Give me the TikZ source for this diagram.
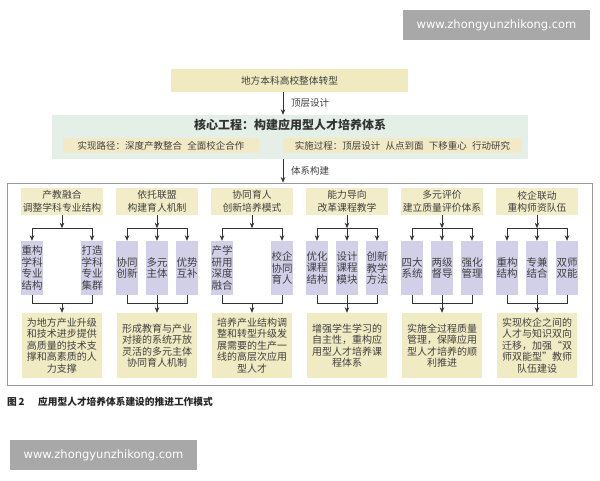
\documentclass[tikz,border=0pt]{standalone}
\usepackage{fontspec}
\setmainfont{Noto Sans CJK SC}
\newfontfamily\wmfont{DejaVu Sans}
\usetikzlibrary{arrows.meta,calc}
\definecolor{hy}{HTML}{F2EDC8}
\definecolor{ty}{HTML}{F1EAC0}
\definecolor{ry}{HTML}{F1EBC3}
\definecolor{lav}{HTML}{D2CFE8}
\definecolor{grn}{HTML}{E4EFE8}
\definecolor{bary}{HTML}{F2EAC6}
\definecolor{txt}{HTML}{404040}
\definecolor{lnc}{HTML}{333333}
\definecolor{wmg}{HTML}{A8A8A8}
\definecolor{frame}{HTML}{9A9A9A}
\newcommand\gapsp{\hspace{0.55em}}
\begin{document}
\begin{tikzpicture}[x=1pt,y=1pt,
  hdr/.style={fill=hy, minimum width=82pt, minimum height=27pt, inner sep=0pt, align=center, text=txt, font=\fontsize{9.8}{12.5}\selectfont},
  kid/.style={fill=lav, minimum width=22pt, minimum height=54pt, inner sep=0pt, align=center, text=txt, font=\fontsize{10.5}{11.5}\selectfont},
  res/.style={fill=ry, minimum width=80pt, minimum height=65pt, inner sep=0pt, align=center, text=txt, font=\fontsize{10}{11.5}\selectfont},
  bar/.style={fill=bary, minimum height=15pt, inner sep=0pt, text=txt, font=\fontsize{9.5}{11}\selectfont},
  lbl/.style={anchor=west, inner sep=0pt, text=txt, font=\fontsize{9.5}{11}\selectfont},
  lin/.style={draw=lnc, line width=0.7pt},
  arr/.style={lin, -{Stealth[length=5.5pt,width=4.5pt]}},
  wmbox/.style={fill=wmg, minimum width=187pt, minimum height=30pt, inner sep=0pt, text=white, font=\wmfont\fontsize{11.5}{13}\selectfont}
]
\fill[white] (0,0) rectangle (600,-480);
\useasboundingbox (0,0) rectangle (600,-480);

% watermarks
\node[wmbox] (wm1) at (496.5,-25) {www.zhongyunzhikong.com};
\node[wmbox] (wm2) at (103.5,-455) {www.zhongyunzhikong.com};

% top
\node[fill=ty, minimum width=237pt, minimum height=23pt, inner sep=0pt, text=txt, font=\fontsize{9.7}{11}\selectfont] (top) at (289.5,-80.5) {地方本科高校整体转型};
\coordinate (ax) at (283,0);

% core panel
\node[fill=grn, minimum width=476pt, minimum height=44pt, inner sep=0pt] (core) at (290,-137) {};
\node[inner sep=0pt, text=txt!80!black, font=\bfseries\fontsize{12}{14}\selectfont] (title) at (290,-125) {核心工程：构建应用型人才培养体系};
\node[bar, minimum width=196pt] (pathbar) at (161,-145.5) {实现路径：深度产教整合\gapsp 全面校企合作};
\node[bar, minimum width=239pt] (procbar) at (402.5,-145.5) {实施过程：顶层设计\gapsp 从点到面\gapsp 下移重心\gapsp 行动研究};

\draw[arr] (top.south -| ax) -- (core.north -| ax);
\node[lbl] (l1) at (291,-103) {顶层设计};

% outer frame
\node[draw=frame, line width=0.8pt, minimum width=585pt, minimum height=202pt, inner sep=0pt] (outer) at (299.5,-284) {};
\draw[arr] (core.south -| ax) -- (outer.north -| ax);
\node[lbl] (l2) at (291,-171) {体系构建};

% headers
\node[hdr] (h1) at (62,-201.5) {产教融合\\调整学科专业结构};
\node[hdr] (h2) at (157,-201.5) {依托联盟\\构建育人机制};
\node[hdr] (h3) at (252,-201.5) {协同育人\\创新培养模式};
\node[hdr] (h4) at (347,-201.5) {能力导向\\改革课程教学};
\node[hdr] (h5) at (442,-201.5) {多元评价\\建立质量评价体系};
\node[hdr] (h6) at (537,-201.5) {校企联动\\重构师资队伍};

% children
\node[kid] (c1a) at (32,-268) {重构\\学科\\专业\\结构};
\node[kid] (c1b) at (92,-268) {打造\\学科\\专业\\集群};
\node[kid] (c2a) at (127,-268) {协同\\创新};
\node[kid] (c2b) at (157,-268) {多元\\主体};
\node[kid] (c2c) at (187,-268) {优势\\互补};
\node[kid] (c3a) at (222,-268) {产学\\研用\\深度\\融合};
\node[kid] (c3b) at (282,-268) {校企\\协同\\育人};
\node[kid] (c4a) at (317,-268) {优化\\课程\\结构};
\node[kid] (c4b) at (347,-268) {设计\\课程\\模块};
\node[kid] (c4c) at (377,-268) {创新\\教学\\方法};
\node[kid] (c5a) at (412,-268) {四大\\系统};
\node[kid] (c5b) at (442,-268) {两级\\督导};
\node[kid] (c5c) at (472,-268) {强化\\管理};
\node[kid] (c6a) at (507,-268) {重构\\结构};
\node[kid] (c6b) at (537,-268) {专兼\\结合};
\node[kid] (c6c) at (567,-268) {双师\\双能};

% results
\node[res] (r1) at (62,-345.5) {为地方产业升级\\和技术进步提供\\高质量的技术支\\撑和高素质的人\\力支撑};
\node[res] (r2) at (157,-345.5) {形成教育与产业\\对接的系统开放\\灵活的多元主体\\协同育人机制};
\node[res] (r3) at (252,-345.5) {培养产业结构调\\整和转型升级发\\展需要的生产一\\线的高层次应用\\型人才};
\node[res] (r4) at (347,-345.5) {增强学生学习的\\自主性，重构应\\用型人才培养课\\程体系};
\node[res] (r5) at (442,-345.5) {实施全过程质量\\管理，保障应用\\型人才培养的顺\\利推进};
\node[res] (r6) at (537,-345.5) {实现校企之间的\\人才与知识双向\\迁移，加强“双\\师双能型”教师\\队伍建设};

% connectors
\foreach \g/\last in {1/b,2/c,3/b,4/c,5/c,6/c}{
  \coordinate (u\g) at ($(h\g.south)+(0,-13)$);
  \coordinate (d\g) at ($(r\g.north)+(0,9)$);
  \draw[arr] (h\g.south) -- (u\g);
  \draw[lin] (u\g -| c\g a) -- (u\g -| c\g\last);
  \draw[arr] (u\g -| c\g a) -- (c\g a.north);
  \draw[arr] (u\g -| c\g\last) -- (c\g\last.north);
  \draw[lin] (c\g a.south) -- (c\g a.south |- d\g) -- (c\g\last.south |- d\g) -- (c\g\last.south);
  \draw[arr] (d\g) -- (r\g.north);
}
\foreach \g in {2,4,5,6}{
  \draw[arr] (u\g -| c\g b) -- (c\g b.north);
  \draw[lin] (c\g b.south) -- (c\g b.south |- d\g);
}

% caption
\node[anchor=west, inner sep=0pt, text=black!85, font=\bfseries\fontsize{9.7}{11}\selectfont] (cap1) at (7,-402) {图\,2};
\node[anchor=west, inner sep=0pt, text=black!85, font=\bfseries\fontsize{9.7}{11}\selectfont] (cap2) at (38,-402) {应用型人才培养体系建设的推进工作模式};
\end{tikzpicture}
\end{document}
